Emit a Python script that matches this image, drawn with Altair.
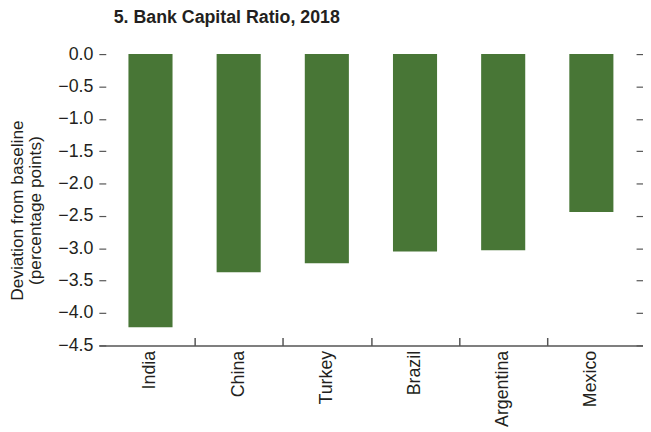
import altair as alt
import pandas as pd

countries = ["India", "China", "Turkey", "Brazil", "Argentina", "Mexico"]
values = [-4.22, -3.37, -3.23, -3.05, -3.03, -2.44]
y_ticks = [0.0, -0.5, -1.0, -1.5, -2.0, -2.5, -3.0, -3.5, -4.0, -4.5]

df = pd.DataFrame({"country": countries, "value": values})

FONT = "Liberation Sans"
GREEN = "#487636"
AXIS = "#555555"
TEXT = "#231f20"

xscale = alt.Scale(domain=countries, paddingInner=0.5, paddingOuter=0.3356)
yscale = alt.Scale(domain=[-4.5, 0], nice=False, zero=False)

base = alt.Chart(df)

bars = base.mark_bar(color=GREEN).encode(
    x=alt.X("country:N", sort=countries, scale=xscale,
            axis=alt.Axis(orient="bottom", title=None, labelAngle=-90,
                          labelFontSize=18, labelFont=FONT, labelColor=TEXT,
                          labelPadding=5, ticks=False, domain=True,
                          domainColor=AXIS, domainWidth=1.5)),
    y=alt.Y("value:Q", scale=yscale,
            axis=alt.Axis(orient="left", values=y_ticks, format=".1f",
                          offset=-7, tickSize=7, tickColor=AXIS, tickWidth=1.2,
                          domain=False, grid=False,
                          labelFontSize=18, labelFont=FONT, labelColor=TEXT,
                          labelPadding=6,
                          title=["Deviation from baseline", "(percentage points)"],
                          titleFont=FONT, titleFontSize=17.5, titleFontWeight="normal",
                          titleColor=TEXT, titleLineHeight=18, titlePadding=14,
                          titleY=158)),
    y2=alt.datum(0),
)

ticks_layer = base.mark_bar(opacity=0).encode(
    x=alt.X("country:N", sort=countries, scale=xscale,
            axis=alt.Axis(orient="top", title=None, labels=False, domain=False,
                          values=countries[:5], offset=-295, tickSize=8,
                          tickColor=AXIS, tickWidth=1.5, tickOffset=44.65)),
    y=alt.Y("value:Q", scale=yscale,
            axis=alt.Axis(orient="right", values=y_ticks, labels=False,
                          domain=False, grid=False, offset=-7, tickSize=7,
                          tickColor=AXIS, tickWidth=1.2, title=None)),
    y2=alt.datum(0),
)

chart = alt.layer(bars, ticks_layer).resolve_axis(
    x="independent", y="independent"
).properties(
    width=551,
    height=295,
    autosize=alt.AutoSizeParams(type="none"),
    padding={"left": 92, "top": 44, "right": 0, "bottom": 84},
    title=alt.TitleParams("5. Bank Capital Ratio, 2018", anchor="start",
                          frame="group", font=FONT, fontSize=18, fontWeight="bold",
                          color=TEXT, dx=15, dy=-18, baseline="top", offset=0),
).configure_view(stroke=None).configure_axis(grid=False)

chart.save("out.html", embed_options={"renderer": "svg", "actions": False})
